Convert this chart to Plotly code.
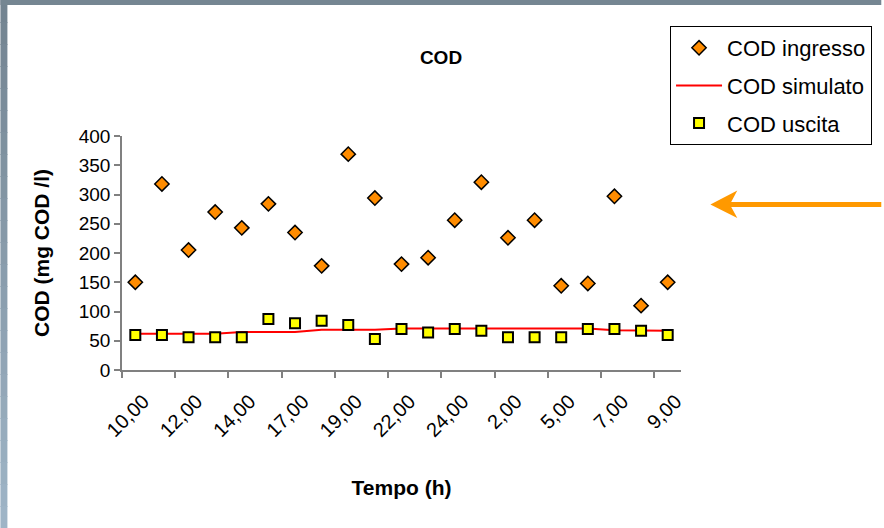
import plotly.graph_objects as go

# ---- data ----
categories = ["10,00", "11,00", "12,00", "13,00", "14,00", "15,30", "17,00", "18,00",
              "19,00", "20,30", "22,00", "23,00", "24,00", "1,00", "2,00", "3,30",
              "5,00", "6,00", "7,00", "8,00", "9,00"]
cod_ingresso = [150, 318, 205, 270, 243, 284, 235, 178, 369, 294, 181,
                192, 256, 321, 226, 256, 144, 148, 297, 110, 150]
cod_simulato = [62, 62, 62, 62, 65, 65, 65, 69, 69, 69, 71,
                71, 71, 71, 71, 71, 71, 71, 68, 67, 67]
cod_uscita = [60, 60, 56, 56, 56, 87, 80, 84, 77, 53, 70,
              64, 70, 67, 56, 56, 56, 70, 70, 67, 60]
y_ticks = [0, 50, 100, 150, 200, 250, 300, 350, 400]

idx = list(range(1, len(categories) + 1))
label_vals = idx[::2]
label_text = categories[::2]
boundary_ticks = [i - 0.5 for i in idx[::2]]

W, H = 884, 528
L, R, T, B = 122, 683, 136, 370  # plot area in px

def px(x):
    return (x - L) / (R - L)

def py(y):
    return (B - y) / (B - T)

FONT = "Liberation Sans, Arial, sans-serif"

fig = go.Figure()
fig.add_trace(go.Scatter(
    x=idx, y=cod_ingresso, mode="markers", name="COD ingresso", legendgroup="a",
    marker=dict(symbol="diamond", size=11, color="#FF8C00",
                line=dict(color="#000000", width=1.5))))
fig.add_trace(go.Scatter(
    x=idx, y=cod_simulato, mode="lines", name="COD simulato", legendgroup="b",
    line=dict(color="#FF0000", width=2)))
fig.add_trace(go.Scatter(
    x=idx, y=cod_uscita, mode="markers", name="COD uscita", legendgroup="c",
    marker=dict(symbol="square", size=10, color="#FFFF00",
                line=dict(color="#000000", width=2))))

shapes = []
# slide background strips (gradient on the left, band on top)
n = 24
c0 = (0x73, 0x84, 0x91)
c1 = (0x9E, 0xB4, 0xC6)
for i in range(n):
    t = i / (n - 1)
    col = "rgb(%d,%d,%d)" % tuple(round(a + (b - a) * t) for a, b in zip(c0, c1))
    y0 = i * H / n
    y1 = (i + 1) * H / n + 1
    shapes.append(dict(type="rect", xref="paper", yref="paper",
                       x0=px(0), x1=px(7), y0=py(y1), y1=py(y0),
                       fillcolor=col, line=dict(width=0), layer="below"))
shapes.append(dict(type="rect", xref="paper", yref="paper",
                   x0=px(0), x1=px(W), y0=py(5), y1=py(0),
                   fillcolor="#758692", line=dict(width=0), layer="below"))
# orange arrow
shapes.append(dict(type="line", xref="paper", yref="paper",
                   x0=px(730), x1=px(W), y0=py(204.5), y1=py(204.5),
                   line=dict(color="#FF9900", width=5)))
shapes.append(dict(type="path", xref="paper", yref="paper",
                   path="M %f,%f L %f,%f L %f,%f L %f,%f Z" % (
                       px(712.5), py(204.5), px(739.5), py(190.5),
                       px(732), py(204.5), px(739.5), py(218)),
                   fillcolor="#FF9900", line=dict(width=0)))

fig.update_layout(
    width=W, height=H,
    margin=dict(l=L, r=W - R, t=T, b=H - B, pad=0),
    paper_bgcolor="white", plot_bgcolor="white",
    font=dict(family=FONT, color="#000000"),
    title=dict(text="<b>COD</b>", xref="container", x=441 / W, xanchor="center",
               yref="container", y=1 - 57 / H, yanchor="middle", font=dict(size=19)),
    showlegend=True,
    legend=dict(x=px(672), y=py(26), xanchor="left", yanchor="top",
                bordercolor="#000000", borderwidth=1, bgcolor="white",
                font=dict(size=22, family=FONT), tracegroupgap=6,
                traceorder="grouped", itemwidth=46),
    shapes=shapes,
    xaxis=dict(range=[0.5, len(idx) + 0.5], tickmode="array",
               tickvals=label_vals, ticktext=label_text, ticks="",
               tickangle=-45, tickfont=dict(size=20),
               ticklabelstandoff=10, ticklabelshift=8,
               showgrid=False, zeroline=False, showline=True,
               linecolor="#808080", linewidth=1.5,
               minor=dict(tickmode="array", tickvals=boundary_ticks, ticks="outside",
                          ticklen=6, tickcolor="#808080", tickwidth=1.5, showgrid=False),
               title=dict(text="<b>Tempo (h)</b>", font=dict(size=21), standoff=40)),
    yaxis=dict(range=[0, 400], tickmode="array", tickvals=y_ticks,
               ticks="outside", ticklen=6, tickcolor="#808080", tickwidth=1.5,
               tickfont=dict(size=19), showgrid=False, zeroline=False,
               showline=True, linecolor="#808080", linewidth=1.5,
               title=dict(text="<b>COD (mg COD /l)</b>", font=dict(size=21), standoff=23)),
)

fig.write_html("out.html")
